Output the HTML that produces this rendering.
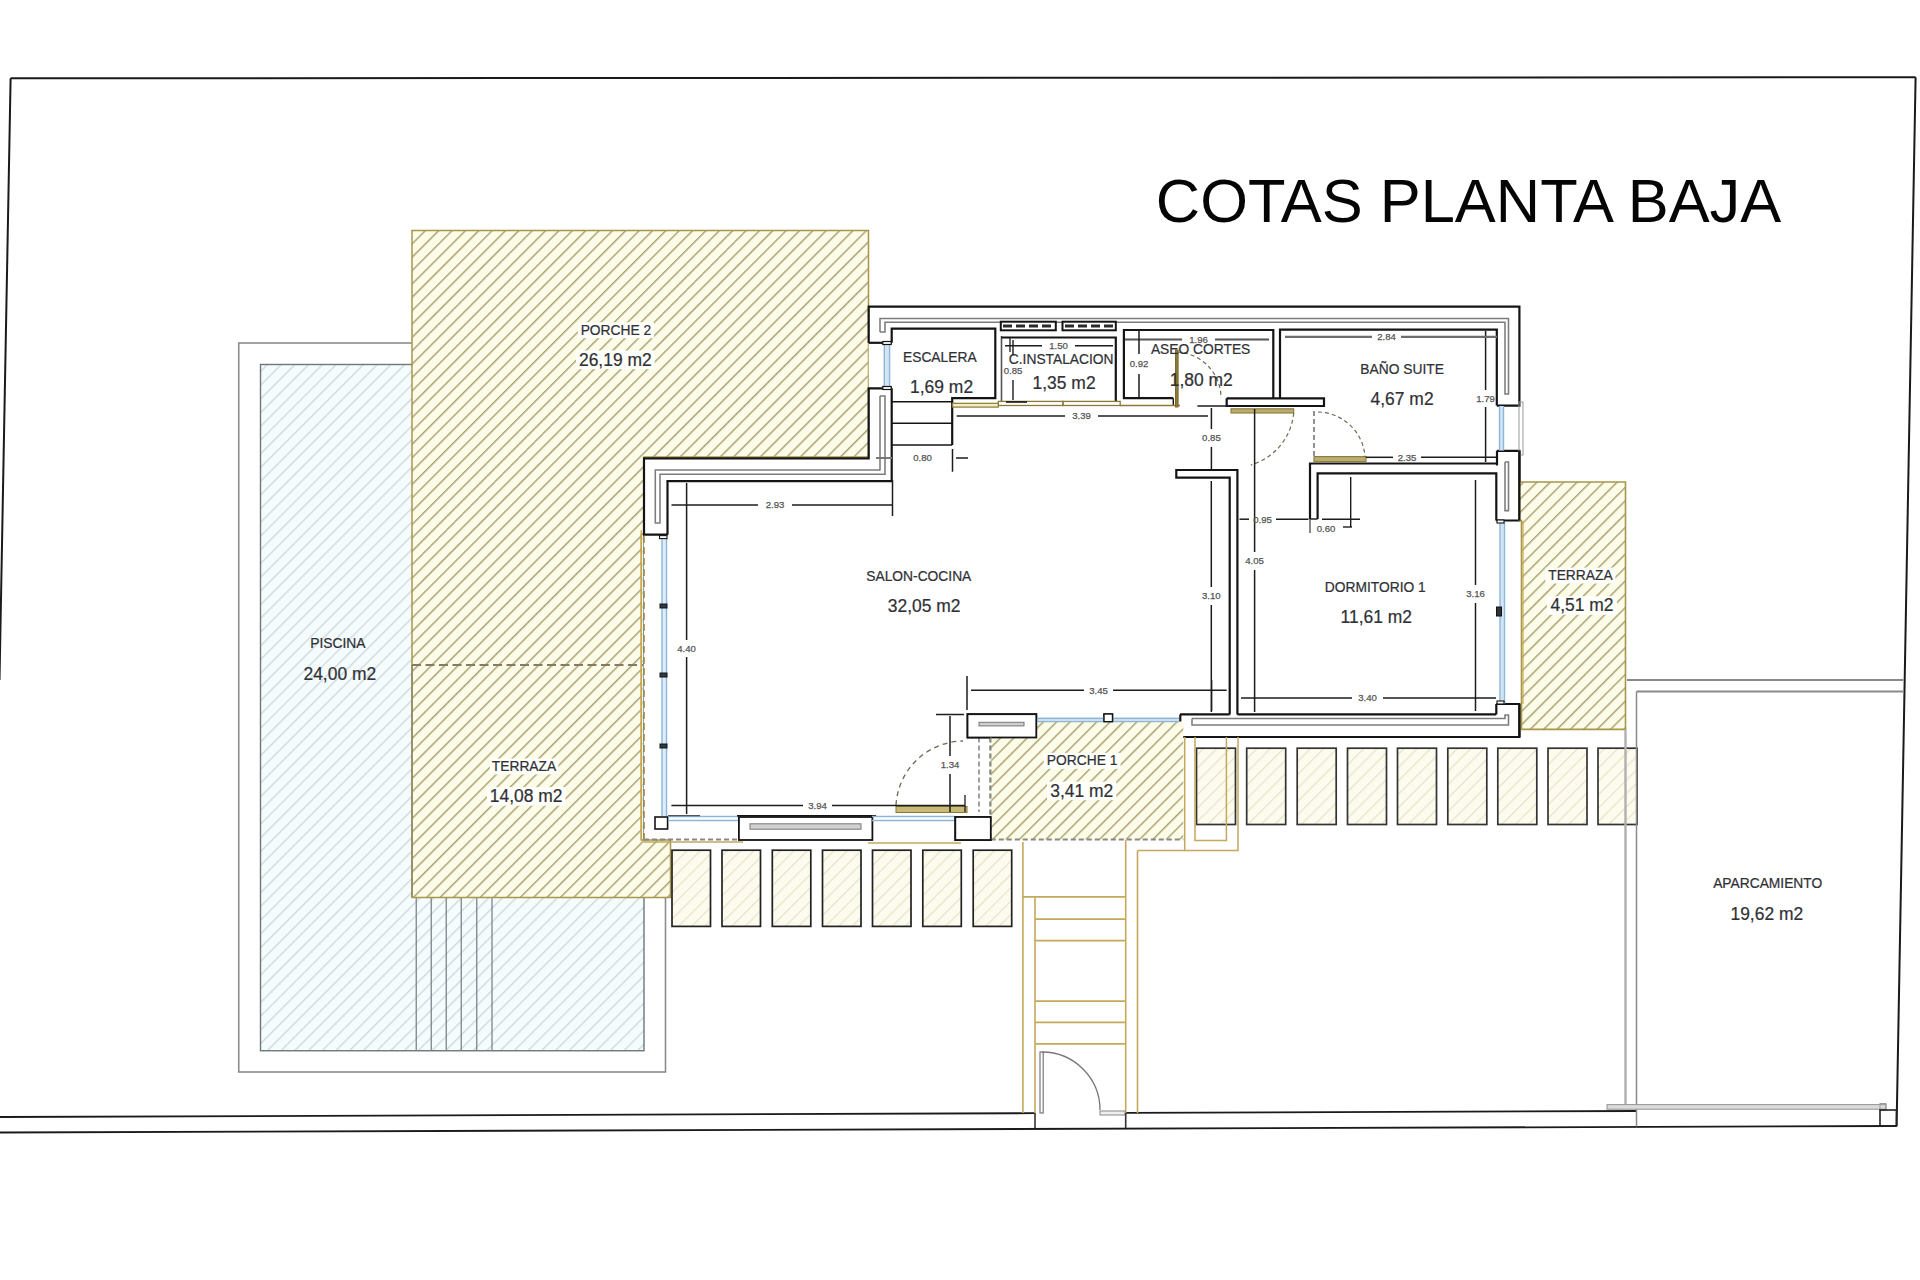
<!DOCTYPE html>
<html><head><meta charset="utf-8"><style>
html,body{margin:0;padding:0;background:#fff;}
svg{display:block;}
text{font-family:"Liberation Sans",sans-serif;}
</style></head><body>
<svg width="1920" height="1280" viewBox="0 0 1920 1280">
<defs>
<pattern id="hy" patternUnits="userSpaceOnUse" width="9.45" height="9.45" patternTransform="rotate(45)">
<rect width="9.45" height="9.45" fill="#fdfce8"/><line x1="0.6" y1="0" x2="0.6" y2="9.45" stroke="#aaa273" stroke-width="1.75"/></pattern>
<pattern id="hb" patternUnits="userSpaceOnUse" width="9.7" height="9.7" patternTransform="rotate(45)">
<rect width="9.7" height="9.7" fill="#f5fcfd"/><line x1="0.6" y1="0" x2="0.6" y2="9.7" stroke="#d0d8dc" stroke-width="1.5"/></pattern>
<pattern id="ht" patternUnits="userSpaceOnUse" width="9.45" height="9.45" patternTransform="rotate(45)">
<rect width="9.45" height="9.45" fill="#fcfbee"/><line x1="0.6" y1="0" x2="0.6" y2="9.45" stroke="#e6e0c6" stroke-width="1.1"/></pattern>
</defs>
<rect width="1920" height="1280" fill="#fff"/>
<line x1="10.6" y1="78.3" x2="1915.6" y2="77.3" stroke="#1a1a1a" stroke-width="2"/>
<line x1="10.6" y1="78.3" x2="-0.5" y2="680" stroke="#1a1a1a" stroke-width="2"/>
<line x1="1915.6" y1="77.3" x2="1896.6" y2="1126" stroke="#1a1a1a" stroke-width="2"/>
<line x1="0" y1="1117" x2="1035" y2="1113.2" stroke="#1a1a1a" stroke-width="1.8"/>
<line x1="1125.7" y1="1112.9" x2="1637" y2="1111" stroke="#1a1a1a" stroke-width="1.8"/>
<line x1="0" y1="1132.5" x2="1896.6" y2="1126" stroke="#1a1a1a" stroke-width="1.8"/>
<text x="1155.8" y="222" font-size="61.4" text-anchor="start" fill="#050505">COTAS PLANTA BAJA</text>
<rect x="238.75" y="343" width="426.75" height="729" fill="#fff" stroke="#8c8c8c" stroke-width="1.6"/>
<rect x="260.5" y="364.5" width="383.5" height="686.25" fill="url(#hb)" stroke="#6d777c" stroke-width="1.4"/>
<line x1="416.25" y1="897" x2="416.25" y2="1050.75" stroke="#7c868b" stroke-width="1.3"/>
<line x1="431.25" y1="897" x2="431.25" y2="1050.75" stroke="#7c868b" stroke-width="1.3"/>
<line x1="446.25" y1="897" x2="446.25" y2="1050.75" stroke="#7c868b" stroke-width="1.3"/>
<line x1="461.25" y1="897" x2="461.25" y2="1050.75" stroke="#7c868b" stroke-width="1.3"/>
<line x1="476.75" y1="897" x2="476.75" y2="1050.75" stroke="#7c868b" stroke-width="1.3"/>
<line x1="492" y1="897" x2="492" y2="1050.75" stroke="#7c868b" stroke-width="1.3"/>
<polygon points="412,230.5 868.5,230.5 868.5,457 644,457 644,534 641.3,534 641.3,840 670.5,840 670.5,897.5 412,897.5" fill="url(#hy)" stroke="#a8964a" stroke-width="1.5"/>
<line x1="412" y1="665" x2="643" y2="665" stroke="#857a62" stroke-width="1.9" stroke-dasharray="9,4.5"/>
<line x1="412" y1="665" x2="412" y2="897" stroke="#8e8866" stroke-width="1.5"/>
<polygon points="644,458.3 868.7,458.3 868.7,306.7 1519.4,306.7 1519.4,737 1180.3,737 1180.3,714 1036,714 1036,737.5 990.8,737.5 990.8,839 644,839" fill="#fff" stroke="none" stroke-width="0"/>
<polyline points="868.7,342.8 868.7,306.7 1519.4,306.7 1519.4,405.6 1496.8,405.6" fill="none" stroke="#141414" stroke-width="2.2"/>
<polyline points="1496.8,450.8 1519.4,450.8 1519.4,520.5 1496.3,520.5" fill="none" stroke="#141414" stroke-width="2.2"/>
<polyline points="1496.3,704 1519.4,704 1519.4,737 1180.3,737 1180.3,714.4" fill="none" stroke="#141414" stroke-width="2.2"/>
<polyline points="891.7,342.8 868.7,342.8" fill="none" stroke="#141414" stroke-width="2.2"/>
<polyline points="891.7,388.3 868.7,388.3 868.7,458.3 644,458.3 644,534.7 667.5,534.7" fill="none" stroke="#141414" stroke-width="2.2"/>
<polyline points="891.7,342.8 891.7,328.7 995.3,328.7 995.3,398.1 952.2,398.1 952.2,445" fill="none" stroke="#141414" stroke-width="2.2"/>
<polyline points="891.7,388.3 891.7,481.2 667.5,481.2 667.5,534.7" fill="none" stroke="#141414" stroke-width="2.2"/>
<line x1="891.7" y1="401.8" x2="952.2" y2="401.8" stroke="#141414" stroke-width="1.6"/>
<line x1="891.7" y1="423.3" x2="952.2" y2="423.3" stroke="#141414" stroke-width="1.6"/>
<line x1="891.7" y1="445" x2="952.2" y2="445" stroke="#141414" stroke-width="1.6"/>
<rect x="884.3" y="343" width="5.3" height="45" fill="#d3e5f4"/>
<line x1="884.3" y1="343" x2="884.3" y2="388" stroke="#8db6d8" stroke-width="1.4"/>
<line x1="889.6" y1="343" x2="889.6" y2="388" stroke="#8db6d8" stroke-width="1.4"/>
<rect x="882.8" y="341.5" width="8.4" height="3" fill="#fff" stroke="#141414" stroke-width="1.2"/>
<rect x="882.8" y="386.5" width="8.4" height="3" fill="#fff" stroke="#141414" stroke-width="1.2"/>
<polyline points="880,332 880,318.4 1508.5,318.4 1508.5,394 1505,394 1505,322.2 885,322.2 885,332 880,332" fill="none" stroke="#7c7c7c" stroke-width="1.55"/>
<polyline points="880,396 880,470 655.3,470 655.3,523 660,523 660,474.2 885,474.2 885,396 880,396" fill="none" stroke="#7c7c7c" stroke-width="1.55"/>
<polyline points="1505,462 1508.5,462 1508.5,510.6 1505,510.6 1505,462" fill="none" stroke="#7c7c7c" stroke-width="1.55"/>
<polyline points="1192,718.5 1505,718.5 1505,715 1508.5,715 1508.5,725 1192,725 1192,718.5" fill="none" stroke="#7c7c7c" stroke-width="1.55"/>
<line x1="1001.5" y1="336" x2="1001.5" y2="402" stroke="#555" stroke-width="1.6"/>
<polyline points="1001.5,337.5 1115.8,337.5 1115.8,402" fill="none" stroke="#141414" stroke-width="2.2"/>
<rect x="1000.8" y="321.7" width="55" height="8.6" fill="#fff" stroke="#141414" stroke-width="2"/>
<rect x="1062.5" y="321.7" width="53.3" height="8.6" fill="#fff" stroke="#141414" stroke-width="2"/>
<line x1="1003" y1="326" x2="1054" y2="326" stroke="#2a2a2a" stroke-width="3" stroke-dasharray="9,4"/>
<line x1="1065" y1="326" x2="1114" y2="326" stroke="#2a2a2a" stroke-width="3" stroke-dasharray="9,4"/>
<rect x="998.3" y="401.4" width="64.7" height="4.1" fill="none" stroke="#8a7a35" stroke-width="1.3"/>
<rect x="1063" y="401.4" width="57.2" height="4.1" fill="none" stroke="#8a7a35" stroke-width="1.3"/>
<line x1="1006" y1="402" x2="1027" y2="402" stroke="#141414" stroke-width="1.6"/>
<rect x="952.5" y="403.3" width="45.8" height="3.8" fill="#f3ecc4" stroke="#8a7a35" stroke-width="1.2"/>
<polyline points="1173.3,398.2 1123.9,398.2 1123.9,330 1273.3,330 1273.3,398.3" fill="none" stroke="#141414" stroke-width="2.2"/>
<line x1="1173.3" y1="398.2" x2="1173.3" y2="405" stroke="#141414" stroke-width="1.4"/>
<line x1="1120" y1="405.5" x2="1180" y2="405.5" stroke="#8a7a35" stroke-width="1.4"/>
<rect x="1175.5" y="350" width="2.6" height="57" fill="#8a7a35" stroke="#7a6a30" stroke-width="1"/>
<path d="M1177,352 A46,46 0 0 1 1221,398" fill="none" stroke="#6b6b55" stroke-width="1.2" stroke-dasharray="4,3"/>
<polyline points="1280,398.3 1280,329.7 1496.8,329.7 1496.8,405.6" fill="none" stroke="#141414" stroke-width="2.2"/>
<polyline points="1226.7,398.3 1324,398.3 1324,406 1226.7,406 1226.7,398.3" fill="none" stroke="#141414" stroke-width="2.2"/>
<line x1="1497" y1="450.8" x2="1497" y2="465.5" stroke="#141414" stroke-width="2.2"/>
<polyline points="1310,519 1310,463.5 1496.8,463.5" fill="none" stroke="#141414" stroke-width="2.2"/>
<polyline points="1317.6,519 1317.6,473.3 1496.3,473.3 1496.3,520.5" fill="none" stroke="#141414" stroke-width="2.2"/>
<line x1="1310" y1="519" x2="1317.6" y2="519" stroke="#141414" stroke-width="1.4"/>
<rect x="1499.5" y="406" width="4" height="44.5" fill="#d3e5f4"/>
<line x1="1499.5" y1="406" x2="1499.5" y2="450.5" stroke="#8db6d8" stroke-width="1.4"/>
<line x1="1503.5" y1="406" x2="1503.5" y2="450.5" stroke="#8db6d8" stroke-width="1.4"/>
<rect x="1519" y="402" width="4" height="53" fill="none" stroke="#999" stroke-width="1"/>
<rect x="1500" y="521" width="4.5" height="182.5" fill="#d3e5f4"/>
<line x1="1500" y1="521" x2="1500" y2="703.5" stroke="#8db6d8" stroke-width="1.4"/>
<line x1="1504.5" y1="521" x2="1504.5" y2="703.5" stroke="#8db6d8" stroke-width="1.4"/>
<rect x="1497" y="520" width="7" height="3" fill="#fff" stroke="#141414" stroke-width="1.1"/>
<rect x="1497" y="701" width="7" height="3" fill="#fff" stroke="#141414" stroke-width="1.1"/>
<rect x="1496.5" y="607" width="5" height="9" fill="#333" stroke="#141414" stroke-width="1"/>
<line x1="1496.3" y1="704" x2="1496.3" y2="714.4" stroke="#141414" stroke-width="2.2"/>
<line x1="1180" y1="714.4" x2="1229.7" y2="714.4" stroke="#141414" stroke-width="2.2"/>
<line x1="1237.4" y1="714.4" x2="1496.3" y2="714.4" stroke="#141414" stroke-width="2.2"/>
<polyline points="1229.7,714.4 1229.7,477.7 1176.3,477.7 1176.3,470 1237.4,470 1237.4,714.4" fill="none" stroke="#141414" stroke-width="2.2"/>
<rect x="1231" y="408.8" width="62.7" height="4.2" fill="#b9ad72" stroke="#8a7a35" stroke-width="1.1"/>
<path d="M1293.7,413 A60,60 0 0 1 1250.8,465" fill="none" stroke="#6b6b55" stroke-width="1.2" stroke-dasharray="4,3"/>
<line x1="1314" y1="411" x2="1314" y2="458" stroke="#777" stroke-width="1.6" stroke-dasharray="5,3"/>
<rect x="1314" y="456.6" width="52" height="5" fill="#b9ad72" stroke="#8a7a35" stroke-width="1.1"/>
<path d="M1318,412 A48,48 0 0 1 1365,457" fill="none" stroke="#6b6b55" stroke-width="1.2" stroke-dasharray="4,3"/>
<rect x="662" y="538" width="4.5" height="278" fill="#dfeef8"/>
<line x1="662" y1="538" x2="662" y2="816" stroke="#8db6d8" stroke-width="1.4"/>
<line x1="666.5" y1="538" x2="666.5" y2="816" stroke="#8db6d8" stroke-width="1.4"/>
<rect x="659.5" y="535.6" width="7.5" height="3" fill="#fff" stroke="#141414" stroke-width="1.1"/>
<rect x="660" y="604" width="7" height="4" fill="#2c3a44" stroke="#141414" stroke-width="1"/>
<rect x="660" y="673" width="7" height="4" fill="#2c3a44" stroke="#141414" stroke-width="1"/>
<rect x="660" y="744" width="7" height="4" fill="#2c3a44" stroke="#141414" stroke-width="1"/>
<line x1="641.3" y1="530" x2="641.3" y2="840" stroke="#c9a84a" stroke-width="1.3"/>
<line x1="644" y1="536" x2="644" y2="839" stroke="#9a8748" stroke-width="1.6" stroke-dasharray="7,4"/>
<line x1="644" y1="839.5" x2="742" y2="839.5" stroke="#888" stroke-width="2" stroke-dasharray="5,3"/>
<rect x="655" y="817" width="12.6" height="12" fill="#fff" stroke="#141414" stroke-width="1.6"/>
<line x1="668" y1="816.5" x2="739" y2="816.5" stroke="#8db6d8" stroke-width="1.6"/>
<line x1="668" y1="820.5" x2="739" y2="820.5" stroke="#8db6d8" stroke-width="1.6"/>
<line x1="668" y1="815.7" x2="700" y2="815.7" stroke="#333" stroke-width="1"/>
<rect x="738.9" y="817" width="133.5" height="23" fill="#fff" stroke="#141414" stroke-width="1.8"/>
<rect x="750" y="823.8" width="111" height="5.4" fill="#d0d0d0" stroke="#777" stroke-width="1"/>
<line x1="737" y1="815.7" x2="876" y2="815.7" stroke="#141414" stroke-width="1.6"/>
<line x1="872" y1="816.5" x2="955" y2="816.5" stroke="#8db6d8" stroke-width="1.6"/>
<line x1="872" y1="820.5" x2="955" y2="820.5" stroke="#8db6d8" stroke-width="1.6"/>
<rect x="955.3" y="817" width="35.5" height="23" fill="#fff" stroke="#141414" stroke-width="1.8"/>
<line x1="979" y1="737.5" x2="979" y2="812" stroke="#777" stroke-width="1.4" stroke-dasharray="5,3"/>
<line x1="990" y1="737.5" x2="990" y2="817" stroke="#777" stroke-width="1.4" stroke-dasharray="5,3"/>
<rect x="896" y="806.5" width="71" height="6" fill="#c8bb7a" stroke="#8a7a35" stroke-width="1"/>
<path d="M896,805 A68,68 0 0 1 963,741" fill="none" stroke="#6b6b55" stroke-width="1.3" stroke-dasharray="5,4"/>
<rect x="967.5" y="714.2" width="68.8" height="23.3" fill="#fff" stroke="#141414" stroke-width="1.8"/>
<rect x="979" y="722.3" width="45" height="3.6" fill="#d0d0d0" stroke="#777" stroke-width="1"/>
<line x1="1037" y1="718.5" x2="1179" y2="718.5" stroke="#8db6d8" stroke-width="1.5"/>
<line x1="1037" y1="721.5" x2="1179" y2="721.5" stroke="#8db6d8" stroke-width="1.5"/>
<rect x="1104" y="714" width="8.5" height="7.7" fill="#fff" stroke="#141414" stroke-width="1.4"/>
<rect x="990.8" y="721.5" width="192.5" height="118" fill="url(#hy)"/>
<rect x="967.5" y="714.2" width="68.8" height="23.3" fill="#fff" stroke="#141414" stroke-width="1.8"/>
<rect x="979" y="722.3" width="45" height="3.6" fill="#d0d0d0" stroke="#777" stroke-width="1"/>
<line x1="1037" y1="718.5" x2="1179" y2="718.5" stroke="#8db6d8" stroke-width="1.5"/>
<line x1="1037" y1="721.5" x2="1179" y2="721.5" stroke="#8db6d8" stroke-width="1.5"/>
<rect x="1104" y="714" width="8.5" height="7.7" fill="#fff" stroke="#141414" stroke-width="1.4"/>
<line x1="990.8" y1="737.5" x2="990.8" y2="839.5" stroke="#8a8a80" stroke-width="1.4" stroke-dasharray="5,3"/>
<line x1="990.8" y1="839.5" x2="1183.3" y2="839.5" stroke="#8a8a80" stroke-width="2" stroke-dasharray="5,3"/>
<rect x="955.3" y="817" width="35.5" height="23" fill="#fff" stroke="#141414" stroke-width="1.8"/>
<polygon points="1519.4,482 1625.5,482 1625.5,729.4 1521.5,729.4 1521.5,520.5 1519.4,520.5" fill="url(#hy)" stroke="#a8964a" stroke-width="1.6"/>
<line x1="1523" y1="521" x2="1523" y2="704" stroke="#c9a84a" stroke-width="1.2"/>
<polyline points="1519.4,450.8 1519.4,520.5" fill="none" stroke="#141414" stroke-width="2.2"/>
<polyline points="1519.4,704 1519.4,737" fill="none" stroke="#141414" stroke-width="2.2"/>
<rect x="672" y="850.2" width="38.5" height="76.2" fill="url(#ht)" stroke="#222" stroke-width="1.7"/>
<rect x="722" y="850.2" width="38.5" height="76.2" fill="url(#ht)" stroke="#222" stroke-width="1.7"/>
<rect x="772.3" y="850.2" width="38.5" height="76.2" fill="url(#ht)" stroke="#222" stroke-width="1.7"/>
<rect x="822.5" y="850.2" width="38.5" height="76.2" fill="url(#ht)" stroke="#222" stroke-width="1.7"/>
<rect x="872.5" y="850.2" width="38.5" height="76.2" fill="url(#ht)" stroke="#222" stroke-width="1.7"/>
<rect x="922.8" y="850.2" width="38.5" height="76.2" fill="url(#ht)" stroke="#222" stroke-width="1.7"/>
<rect x="973.2" y="850.2" width="38.5" height="76.2" fill="url(#ht)" stroke="#222" stroke-width="1.7"/>
<rect x="1196.5" y="748.2" width="39" height="76.3" fill="url(#ht)" stroke="#333" stroke-width="1.7"/>
<rect x="1246.7" y="748.2" width="39" height="76.3" fill="url(#ht)" stroke="#333" stroke-width="1.7"/>
<rect x="1297.2" y="748.2" width="39" height="76.3" fill="url(#ht)" stroke="#333" stroke-width="1.7"/>
<rect x="1347.5" y="748.2" width="39" height="76.3" fill="url(#ht)" stroke="#333" stroke-width="1.7"/>
<rect x="1397.5" y="748.2" width="39" height="76.3" fill="url(#ht)" stroke="#333" stroke-width="1.7"/>
<rect x="1447.8" y="748.2" width="39" height="76.3" fill="url(#ht)" stroke="#333" stroke-width="1.7"/>
<rect x="1497.8" y="748.2" width="39" height="76.3" fill="url(#ht)" stroke="#333" stroke-width="1.7"/>
<rect x="1548" y="748.2" width="39" height="76.3" fill="url(#ht)" stroke="#333" stroke-width="1.7"/>
<rect x="1598" y="748.2" width="39" height="76.3" fill="url(#ht)" stroke="#333" stroke-width="1.7"/>
<polyline points="1184.7,737 1184.7,850.5 1238,850.5 1238,737" fill="none" stroke="#c4a95a" stroke-width="1.5"/>
<polyline points="1195,737 1195,840.6 1226.4,840.6 1226.4,737" fill="none" stroke="#c4a95a" stroke-width="1.5"/>
<line x1="1022.9" y1="842" x2="1022.9" y2="1113" stroke="#c4a95a" stroke-width="1.6"/>
<line x1="1035" y1="897.4" x2="1035" y2="1113" stroke="#c4a95a" stroke-width="1.6"/>
<line x1="1125.7" y1="840" x2="1125.7" y2="1113" stroke="#c4a95a" stroke-width="1.6"/>
<line x1="1137.5" y1="850.5" x2="1137.5" y2="1113" stroke="#c4a95a" stroke-width="1.6"/>
<line x1="1137.5" y1="850.5" x2="1184.7" y2="850.5" stroke="#c4a95a" stroke-width="1.6"/>
<line x1="1022.9" y1="896.9" x2="1125.7" y2="896.9" stroke="#c4a95a" stroke-width="1.6"/>
<line x1="1035" y1="919.2" x2="1125.7" y2="919.2" stroke="#c4a95a" stroke-width="1.8"/>
<line x1="1035" y1="940.7" x2="1125.7" y2="940.7" stroke="#c4a95a" stroke-width="1.8"/>
<line x1="1035" y1="1001.2" x2="1125.7" y2="1001.2" stroke="#c4a95a" stroke-width="1.8"/>
<line x1="1035" y1="1022.3" x2="1125.7" y2="1022.3" stroke="#c4a95a" stroke-width="1.8"/>
<line x1="1035" y1="1043.8" x2="1125.7" y2="1043.8" stroke="#c4a95a" stroke-width="1.8"/>
<line x1="644" y1="842" x2="743" y2="842" stroke="#c4a95a" stroke-width="1.5"/>
<line x1="868" y1="843" x2="961" y2="843" stroke="#c4a95a" stroke-width="1.5"/>
<rect x="1040" y="1052" width="3.2" height="61" fill="#fff" stroke="#777" stroke-width="1.2"/>
<path d="M1042,1052 A58,58 0 0 1 1100,1110" fill="none" stroke="#777" stroke-width="1.3"/>
<rect x="1100" y="1111" width="25" height="4" fill="#eee" stroke="#888" stroke-width="1"/>
<line x1="1035" y1="1113" x2="1035" y2="1128" stroke="#333" stroke-width="1.6"/>
<line x1="1125.7" y1="1113" x2="1125.7" y2="1128" stroke="#333" stroke-width="1.6"/>
<line x1="1627" y1="680" x2="1903.5" y2="680" stroke="#8a8a8a" stroke-width="2"/>
<line x1="1636.5" y1="691.5" x2="1903" y2="691.5" stroke="#8a8a8a" stroke-width="2"/>
<line x1="1625.5" y1="729.4" x2="1625.5" y2="1106" stroke="#b0b0b0" stroke-width="2.4"/>
<line x1="1636.5" y1="691.5" x2="1636.5" y2="1126.5" stroke="#8a8a8a" stroke-width="1.5"/>
<rect x="1607" y="1104.6" width="279" height="4.6" fill="#dcdcdc" stroke="#9a9a9a" stroke-width="1.1"/>
<rect x="1880" y="1103.5" width="6" height="7" fill="none" stroke="#999" stroke-width="1"/>
<rect x="1880" y="1110" width="16.5" height="16" fill="none" stroke="#222" stroke-width="1.6"/>
<rect x="577.9" y="322.3" width="76.0" height="15.9" fill="#fffffb"/>
<text x="615.9" y="334.7" font-size="13.8" text-anchor="middle" fill="#303136" stroke="#303136" stroke-width="0.22">PORCHE 2</text>
<rect x="576.0" y="350.5" width="78.6" height="18.6" fill="#fffffb"/>
<text x="615.3" y="365.6" font-size="17.45" text-anchor="middle" fill="#303136" stroke="#303136" stroke-width="0.22">26,19 m2</text>
<text x="939.8" y="362" font-size="13.8" text-anchor="middle" fill="#303136" stroke="#303136" stroke-width="0.22">ESCALERA</text>
<text x="941.6" y="393" font-size="17.45" text-anchor="middle" fill="#303136" stroke="#303136" stroke-width="0.22">1,69 m2</text>
<text x="1061.2" y="363.8" font-size="13.8" text-anchor="middle" fill="#303136" stroke="#303136" stroke-width="0.22">C.INSTALACION</text>
<text x="1064.1" y="389.2" font-size="17.45" text-anchor="middle" fill="#303136" stroke="#303136" stroke-width="0.22">1,35 m2</text>
<text x="1200.6" y="353.8" font-size="13.8" text-anchor="middle" fill="#303136" stroke="#303136" stroke-width="0.22">ASEO CORTES</text>
<text x="1201.3" y="385.5" font-size="17.45" text-anchor="middle" fill="#303136" stroke="#303136" stroke-width="0.22">1,80 m2</text>
<text x="1402.1" y="373.7" font-size="13.8" text-anchor="middle" fill="#303136" stroke="#303136" stroke-width="0.22">BAÑO SUITE</text>
<text x="1402.1" y="404.5" font-size="17.45" text-anchor="middle" fill="#303136" stroke="#303136" stroke-width="0.22">4,67 m2</text>
<text x="918.8" y="580.5" font-size="13.8" text-anchor="middle" fill="#303136" stroke="#303136" stroke-width="0.22">SALON-COCINA</text>
<text x="924.1" y="611.6" font-size="17.45" text-anchor="middle" fill="#303136" stroke="#303136" stroke-width="0.22">32,05 m2</text>
<text x="1375.3" y="591.7" font-size="13.8" text-anchor="middle" fill="#303136" stroke="#303136" stroke-width="0.22">DORMITORIO 1</text>
<text x="1376.3" y="623.1" font-size="17.45" text-anchor="middle" fill="#303136" stroke="#303136" stroke-width="0.22">11,61 m2</text>
<rect x="1545.5" y="567.6" width="69.8" height="15.9" fill="#fffffb"/>
<text x="1580.4" y="580" font-size="13.8" text-anchor="middle" fill="#303136" stroke="#303136" stroke-width="0.22">TERRAZA</text>
<rect x="1547.0" y="596.2" width="69.9" height="18.6" fill="#fffffb"/>
<text x="1582.0" y="611.3" font-size="17.45" text-anchor="middle" fill="#303136" stroke="#303136" stroke-width="0.22">4,51 m2</text>
<text x="337.8" y="648.4" font-size="13.8" text-anchor="middle" fill="#303136" stroke="#303136" stroke-width="0.22">PISCINA</text>
<text x="339.8" y="679.7" font-size="17.45" text-anchor="middle" fill="#303136" stroke="#303136" stroke-width="0.22">24,00 m2</text>
<rect x="489.8" y="758.5" width="68.5" height="15.9" fill="#fffffb"/>
<text x="524.0" y="770.9" font-size="13.8" text-anchor="middle" fill="#303136" stroke="#303136" stroke-width="0.22">TERRAZA</text>
<rect x="487.0" y="787.1" width="78.5" height="18.6" fill="#fffffb"/>
<text x="526.2" y="802.2" font-size="17.45" text-anchor="middle" fill="#303136" stroke="#303136" stroke-width="0.22">14,08 m2</text>
<rect x="1043.7" y="752.9" width="76.8" height="15.9" fill="#fffffb"/>
<text x="1082.1" y="765.3" font-size="13.8" text-anchor="middle" fill="#303136" stroke="#303136" stroke-width="0.22">PORCHE 1</text>
<rect x="1047.0" y="781.6" width="69.3" height="18.6" fill="#fffffb"/>
<text x="1081.7" y="796.7" font-size="17.45" text-anchor="middle" fill="#303136" stroke="#303136" stroke-width="0.22">3,41 m2</text>
<text x="1767.7" y="887.9" font-size="13.8" text-anchor="middle" fill="#303136" stroke="#303136" stroke-width="0.22">APARCAMIENTO</text>
<text x="1766.8" y="919.6" font-size="17.45" text-anchor="middle" fill="#303136" stroke="#303136" stroke-width="0.22">19,62 m2</text>
<line x1="671.5" y1="505" x2="758" y2="505" stroke="#1c1c1c" stroke-width="1.5"/>
<line x1="792" y1="505" x2="892" y2="505" stroke="#1c1c1c" stroke-width="1.5"/>
<text x="775.0" y="508.4" font-size="9.6" text-anchor="middle" fill="#555555" stroke="#555555" stroke-width="0.25">2.93</text>
<line x1="892.5" y1="480" x2="892.5" y2="516" stroke="#1c1c1c" stroke-width="1.5"/>
<line x1="686.6" y1="483" x2="686.6" y2="640" stroke="#1c1c1c" stroke-width="1.5"/>
<line x1="686.6" y1="657" x2="686.6" y2="814" stroke="#1c1c1c" stroke-width="1.5"/>
<text x="686.6" y="651.9" font-size="9.6" text-anchor="middle" fill="#555555" stroke="#555555" stroke-width="0.25">4.40</text>
<line x1="671.4" y1="805.5" x2="803" y2="805.5" stroke="#1c1c1c" stroke-width="1.5"/>
<line x1="832" y1="805.5" x2="965" y2="805.5" stroke="#1c1c1c" stroke-width="1.5"/>
<text x="817.5" y="808.9" font-size="9.6" text-anchor="middle" fill="#555555" stroke="#555555" stroke-width="0.25">3.94</text>
<line x1="965" y1="795" x2="965" y2="812" stroke="#1c1c1c" stroke-width="1.3"/>
<line x1="950" y1="716" x2="950" y2="756" stroke="#1c1c1c" stroke-width="1.5"/>
<line x1="950" y1="774" x2="950" y2="812" stroke="#1c1c1c" stroke-width="1.5"/>
<text x="950" y="768.4" font-size="9.6" text-anchor="middle" fill="#555555" stroke="#555555" stroke-width="0.25">1.34</text>
<line x1="936" y1="714.5" x2="964" y2="714.5" stroke="#1c1c1c" stroke-width="1.5"/>
<line x1="967" y1="676" x2="967" y2="710" stroke="#1c1c1c" stroke-width="1.5"/>
<line x1="971" y1="690.3" x2="1084" y2="690.3" stroke="#1c1c1c" stroke-width="1.5"/>
<line x1="1113" y1="690.3" x2="1226.7" y2="690.3" stroke="#1c1c1c" stroke-width="1.5"/>
<text x="1098.5" y="693.6999999999999" font-size="9.6" text-anchor="middle" fill="#555555" stroke="#555555" stroke-width="0.25">3.45</text>
<line x1="1211.7" y1="680" x2="1211.7" y2="711" stroke="#1c1c1c" stroke-width="1.3"/>
<line x1="1211.3" y1="481" x2="1211.3" y2="587" stroke="#1c1c1c" stroke-width="1.5"/>
<line x1="1211.3" y1="605" x2="1211.3" y2="712" stroke="#1c1c1c" stroke-width="1.5"/>
<text x="1211.3" y="599.4" font-size="9.6" text-anchor="middle" fill="#555555" stroke="#555555" stroke-width="0.25">3.10</text>
<line x1="1254.6" y1="409" x2="1254.6" y2="552" stroke="#1c1c1c" stroke-width="1.5"/>
<line x1="1254.6" y1="570" x2="1254.6" y2="712" stroke="#1c1c1c" stroke-width="1.5"/>
<text x="1254.6" y="564.4" font-size="9.6" text-anchor="middle" fill="#555555" stroke="#555555" stroke-width="0.25">4.05</text>
<line x1="1239.5" y1="519.2" x2="1249" y2="519.2" stroke="#1c1c1c" stroke-width="1.5"/>
<line x1="1276" y1="519.2" x2="1308.5" y2="519.2" stroke="#1c1c1c" stroke-width="1.5"/>
<text x="1262.5" y="522.6" font-size="9.6" text-anchor="middle" fill="#555555" stroke="#555555" stroke-width="0.25">0.95</text>
<line x1="1322" y1="519.2" x2="1360" y2="519.2" stroke="#1c1c1c" stroke-width="1.4"/>
<line x1="1310" y1="519" x2="1310" y2="533" stroke="#555" stroke-width="1.4"/>
<line x1="1350.7" y1="477" x2="1350.7" y2="527" stroke="#1c1c1c" stroke-width="1.4"/>
<line x1="1343" y1="527" x2="1352" y2="527" stroke="#1c1c1c" stroke-width="1.4"/>
<text x="1326" y="531.5" font-size="9.6" text-anchor="middle" fill="#555555" stroke="#555555" stroke-width="0.25">0.60</text>
<line x1="1241" y1="698" x2="1352" y2="698" stroke="#1c1c1c" stroke-width="1.5"/>
<line x1="1383" y1="698" x2="1496" y2="698" stroke="#1c1c1c" stroke-width="1.5"/>
<text x="1367.5" y="701.4" font-size="9.6" text-anchor="middle" fill="#555555" stroke="#555555" stroke-width="0.25">3.40</text>
<line x1="1475.5" y1="480" x2="1475.5" y2="585" stroke="#1c1c1c" stroke-width="1.5"/>
<line x1="1475.5" y1="603" x2="1475.5" y2="711" stroke="#1c1c1c" stroke-width="1.5"/>
<text x="1475.5" y="597.4" font-size="9.6" text-anchor="middle" fill="#555555" stroke="#555555" stroke-width="0.25">3.16</text>
<line x1="1485.6" y1="331" x2="1485.6" y2="390" stroke="#1c1c1c" stroke-width="1.5"/>
<line x1="1485.6" y1="407" x2="1485.6" y2="462" stroke="#1c1c1c" stroke-width="1.5"/>
<text x="1485.6" y="401.9" font-size="9.6" text-anchor="middle" fill="#555555" stroke="#555555" stroke-width="0.25">1.79</text>
<line x1="1365.8" y1="457.3" x2="1393" y2="457.3" stroke="#1c1c1c" stroke-width="1.5"/>
<line x1="1421" y1="457.3" x2="1497" y2="457.3" stroke="#1c1c1c" stroke-width="1.5"/>
<text x="1407.0" y="460.7" font-size="9.6" text-anchor="middle" fill="#555555" stroke="#555555" stroke-width="0.25">2.35</text>
<line x1="1285" y1="336.8" x2="1372" y2="336.8" stroke="#6e6e6e" stroke-width="2.2"/>
<line x1="1401" y1="336.8" x2="1497" y2="336.8" stroke="#6e6e6e" stroke-width="2.2"/>
<text x="1386.5" y="340.2" font-size="9.6" text-anchor="middle" fill="#555555" stroke="#555555" stroke-width="0.25">2.84</text>
<line x1="1125" y1="339.4" x2="1182" y2="339.4" stroke="#555" stroke-width="2"/>
<line x1="1215" y1="339.4" x2="1269" y2="339.4" stroke="#555" stroke-width="2"/>
<text x="1198.5" y="342.79999999999995" font-size="9.6" text-anchor="middle" fill="#555555" stroke="#555555" stroke-width="0.25">1.96</text>
<line x1="1005" y1="345.7" x2="1042" y2="345.7" stroke="#1c1c1c" stroke-width="1.5"/>
<line x1="1075" y1="345.7" x2="1113" y2="345.7" stroke="#1c1c1c" stroke-width="1.5"/>
<text x="1058.5" y="349.09999999999997" font-size="9.6" text-anchor="middle" fill="#555555" stroke="#555555" stroke-width="0.25">1.50</text>
<line x1="1010" y1="338" x2="1010" y2="352" stroke="#1c1c1c" stroke-width="1.3"/>
<line x1="1013" y1="340" x2="1013" y2="355" stroke="#1c1c1c" stroke-width="1.4"/>
<line x1="1013" y1="380" x2="1013" y2="400" stroke="#1c1c1c" stroke-width="1.4"/>
<text x="1013" y="373.6" font-size="9.6" text-anchor="middle" fill="#555555" stroke="#555555" stroke-width="0.25">0.85</text>
<line x1="1139" y1="330" x2="1139" y2="354" stroke="#1c1c1c" stroke-width="1.5"/>
<line x1="1139" y1="374" x2="1139" y2="398" stroke="#1c1c1c" stroke-width="1.5"/>
<text x="1139" y="367.4" font-size="9.6" text-anchor="middle" fill="#555555" stroke="#555555" stroke-width="0.25">0.92</text>
<line x1="956.7" y1="416" x2="1065" y2="416" stroke="#1c1c1c" stroke-width="1.5"/>
<line x1="1098" y1="416" x2="1208" y2="416" stroke="#1c1c1c" stroke-width="1.5"/>
<text x="1081.5" y="419.4" font-size="9.6" text-anchor="middle" fill="#555555" stroke="#555555" stroke-width="0.25">3.39</text>
<line x1="1211.4" y1="408" x2="1211.4" y2="429" stroke="#1c1c1c" stroke-width="1.5"/>
<line x1="1211.4" y1="447" x2="1211.4" y2="470" stroke="#1c1c1c" stroke-width="1.5"/>
<text x="1211.4" y="441.4" font-size="9.6" text-anchor="middle" fill="#555555" stroke="#555555" stroke-width="0.25">0.85</text>
<line x1="1197.4" y1="406" x2="1230" y2="406" stroke="#1c1c1c" stroke-width="1.5"/>
<line x1="0" y1="416" x2="0" y2="416" stroke="#111" stroke-width="1.6"/>
<line x1="952.5" y1="449" x2="952.5" y2="471.7" stroke="#1c1c1c" stroke-width="1.5"/>
<line x1="956" y1="458" x2="968" y2="458" stroke="#1c1c1c" stroke-width="1.5"/>
<line x1="876" y1="458" x2="892" y2="458" stroke="#777" stroke-width="2"/>
<text x="922.5" y="461.4" font-size="9.6" text-anchor="middle" fill="#555555" stroke="#555555" stroke-width="0.25">0.80</text>
</svg>
</body></html>
